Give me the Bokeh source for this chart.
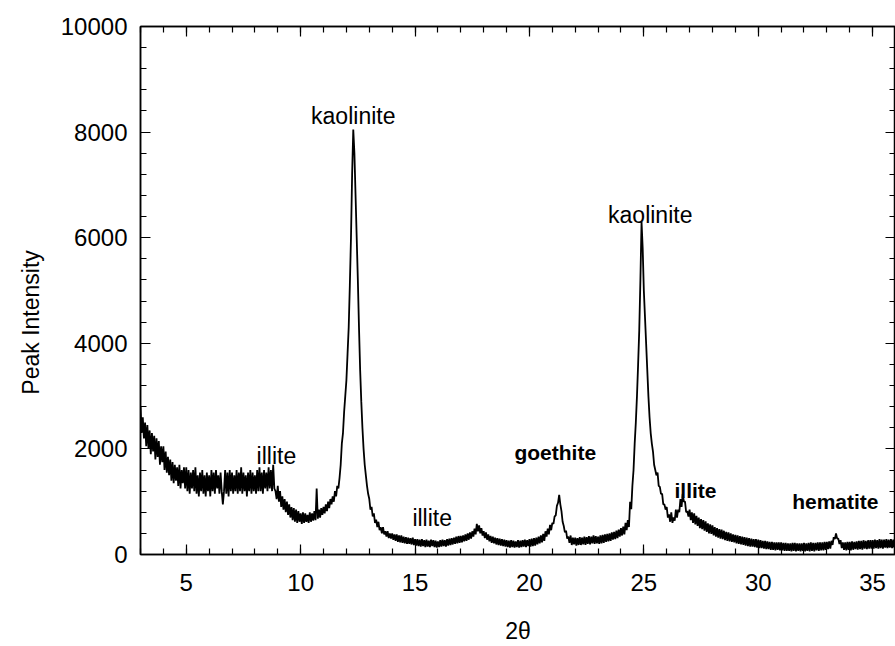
from bokeh.plotting import figure
from bokeh.models import Range1d, LinearAxis, SingleIntervalTicker, Label, CustomJSTickFormatter
from bokeh.embed import file_html
from bokeh.resources import INLINE

# Scan grid (2-theta, degrees)
two_theta_start = 3.0
two_theta_step = 0.05

# Peak intensity, 20 values per degree from 3.0 to 36.0
intensity = [
    2800, 2300, 2600, 2200, 2500, 2050, 2450, 2000, 2350, 1900, 2300, 1950, 2250, 1800, 2200, 1850, 2150, 1700, 2050, 1750,  # 3
    2050, 1600, 1950, 1550, 1850, 1500, 1800, 1400, 1750, 1350, 1700, 1400, 1650, 1300, 1700, 1250, 1600, 1350, 1650, 1250,  # 4
    1650, 1200, 1600, 1150, 1550, 1250, 1600, 1200, 1650, 1150, 1500, 1100, 1550, 1200, 1600, 1150, 1500, 1100, 1550, 1200,  # 5
    1500, 1100, 1600, 1200, 1550, 1150, 1600, 1250, 1500, 1150, 1550, 1200, 950, 1200, 1600, 1150, 1550, 1100, 1600, 1200,   # 6
    1550, 1150, 1500, 1200, 1600, 1150, 1550, 1200, 1650, 1150, 1550, 1200, 1500, 1100, 1550, 1200, 1600, 1150, 1550, 1200,  # 7
    1500, 1150, 1600, 1200, 1650, 1200, 1550, 1150, 1600, 1250, 1550, 1200, 1650, 1250, 1600, 1200, 1700, 1250, 1200, 1050,  # 8
    1300, 1000, 1200, 900, 1100, 850, 1050, 800, 1000, 750, 950, 700, 900, 650, 880, 620, 850, 600, 820, 620,                # 9
    780, 580, 800, 600, 780, 620, 750, 600, 800, 620, 780, 640, 820, 650, 1250, 680, 850, 700, 880, 750,                     # 10
    900, 780, 950, 820, 1000, 880, 1050, 950, 1100, 1000, 1200, 1100, 1300, 1250, 1450, 1700, 2100, 2300, 2700, 3000,        # 11
    3300, 3800, 4300, 5100, 6000, 7200, 8050, 7600, 6800, 6000, 5200, 4300, 3500, 2900, 2400, 2000, 1700, 1500, 1300, 1150,  # 12
    1050, 850, 900, 720, 780, 600, 660, 520, 620, 460, 520, 400, 520, 380, 440, 340, 440, 310, 400, 300,                     # 13
    400, 280, 380, 260, 380, 240, 360, 230, 360, 220, 340, 210, 330, 200, 320, 200, 310, 190, 320, 180,                      # 14
    290, 170, 290, 160, 280, 150, 290, 160, 270, 140, 280, 150, 260, 140, 280, 160, 270, 140, 260, 130,                      # 15
    250, 140, 270, 150, 280, 160, 270, 150, 290, 170, 300, 180, 310, 190, 320, 200, 340, 210, 350, 220,                      # 16
    350, 230, 360, 250, 380, 260, 400, 280, 420, 300, 440, 340, 490, 380, 580, 440, 550, 400, 500, 360,                      # 17
    440, 310, 420, 280, 380, 250, 350, 220, 340, 210, 320, 190, 310, 180, 300, 170, 290, 160, 280, 150,                      # 18
    270, 140, 260, 130, 270, 140, 260, 130, 250, 140, 270, 130, 260, 140, 270, 150, 280, 140, 270, 160,                      # 19
    290, 150, 300, 160, 310, 170, 320, 190, 340, 210, 360, 230, 390, 260, 440, 340, 490, 380, 560, 460,                      # 20
    600, 580, 720, 740, 920, 980, 1130, 950, 820, 620, 540, 420, 450, 300, 340, 220, 360, 180, 320, 190,                     # 21
    320, 170, 310, 180, 330, 180, 320, 190, 340, 180, 330, 200, 350, 190, 340, 210, 360, 200, 350, 210,                      # 22
    340, 200, 360, 210, 370, 220, 380, 240, 390, 250, 400, 260, 420, 280, 430, 290, 450, 310, 470, 340,                      # 23
    500, 360, 530, 380, 600, 460, 650, 520, 1000, 860, 1300, 1600, 2100, 2500, 3000, 3600, 4250, 5200, 6300, 5800,           # 24
    5000, 4500, 4000, 3500, 3000, 2600, 2300, 2100, 1950, 1700, 1600, 1500, 1550, 1300, 1280, 1150, 1150, 950, 950, 850,     # 25
    900, 700, 760, 620, 800, 600, 700, 640, 850, 700, 850, 800, 1050, 900, 1150, 1000, 1000, 800, 820, 720,                  # 26
    850, 650, 800, 600, 780, 570, 730, 540, 700, 500, 670, 480, 650, 450, 630, 430, 590, 400, 570, 390,                      # 27
    550, 360, 520, 340, 500, 320, 480, 300, 470, 290, 450, 270, 430, 260, 420, 250, 400, 240, 380, 230,                      # 28
    370, 210, 360, 200, 350, 190, 340, 180, 330, 170, 320, 160, 310, 150, 300, 150, 290, 140, 290, 130,                      # 29
    280, 120, 270, 120, 260, 110, 260, 100, 250, 100, 240, 90, 240, 90, 230, 80, 230, 90, 230, 80,                           # 30
    230, 80, 220, 70, 220, 70, 210, 70, 210, 60, 220, 70, 220, 60, 210, 70, 210, 60, 210, 70,                                # 31
    220, 60, 210, 70, 220, 60, 230, 70, 220, 60, 220, 80, 230, 70, 230, 80, 230, 80, 240, 90,                                # 32
    240, 100, 250, 110, 260, 180, 330, 290, 400, 300, 300, 200, 270, 120, 230, 90, 230, 80, 240, 90,                         # 33
    240, 80, 250, 90, 240, 100, 250, 90, 260, 100, 260, 90, 270, 110, 260, 100, 270, 110, 270, 110,                          # 34
    270, 110, 280, 120, 270, 110, 290, 120, 280, 110, 280, 130, 290, 120, 280, 130, 290, 120, 280, 130,                      # 35
    240,                                                                                                                     # 36
]
assert len(intensity) == 661, len(intensity)
two_theta = [round(two_theta_start + two_theta_step * i, 3) for i in range(len(intensity))]

# Peak annotations
ann_text = ["kaolinite", "kaolinite", "illite", "illite", "goethite", "illite", "hematite"]
ann_x = [12.30, 25.28, 8.94, 15.75, 21.13, 27.26, 33.37]
ann_y = [8300, 6430, 1860, 700, 1930, 1210, 1010]
ann_bold = [False, False, False, False, True, True, True]

x_label = "2θ"
y_label = "Peak Intensity"

FONT = "Liberation Sans"

p = figure(width=895, height=646, output_backend="svg", toolbar_location=None,
           x_range=Range1d(3, 36), y_range=Range1d(0, 10000),
           min_border_left=140, min_border_right=0, min_border_top=26, min_border_bottom=91,
           background_fill_color="white", border_fill_color="white")
p.grid.visible = False
p.outline_line_color = "black"
p.outline_line_width = 1.5

p.line(two_theta, intensity, line_color="black", line_width=1.8)

blank = CustomJSTickFormatter(code="return ''")

def style(ax, labels=True):
    ax.axis_line_color = "black"
    ax.axis_line_width = 1.5
    ax.major_tick_in = 10
    ax.major_tick_out = 0
    ax.minor_tick_in = 6
    ax.minor_tick_out = 0
    ax.major_tick_line_color = "black"
    ax.minor_tick_line_color = "black"
    ax.major_tick_line_width = 1.2
    ax.minor_tick_line_width = 1.2
    if labels:
        ax.major_label_text_font = FONT
        ax.major_label_text_font_size = "24px"
        ax.major_label_text_color = "black"
        ax.axis_label_text_font = FONT
        ax.axis_label_text_font_size = "23px"
        ax.axis_label_text_font_style = "normal"
        ax.axis_label_text_color = "black"
    else:
        ax.formatter = blank
        ax.major_label_standoff = 0

p.xaxis.ticker = SingleIntervalTicker(interval=5, num_minor_ticks=5)
p.yaxis.ticker = SingleIntervalTicker(interval=2000, num_minor_ticks=5)
style(p.xaxis[0])
style(p.yaxis[0])
p.xaxis.major_label_standoff = 19
p.yaxis.major_label_standoff = 13
p.xaxis.axis_label = x_label
p.xaxis.axis_label_standoff = 24
p.yaxis.axis_label = y_label + "\u00a0" * 10
p.yaxis.axis_label_standoff = 14

top = LinearAxis(ticker=SingleIntervalTicker(interval=5, num_minor_ticks=5))
style(top, labels=False)
p.add_layout(top, "above")
right = LinearAxis(ticker=SingleIntervalTicker(interval=2000, num_minor_ticks=5))
style(right, labels=False)
p.add_layout(right, "right")

for t, x, y, b in zip(ann_text, ann_x, ann_y, ann_bold):
    p.add_layout(Label(x=x, y=y, text=t, text_align="center", text_baseline="alphabetic",
                       text_font=FONT, text_font_size="21px" if b else "23px",
                       text_font_style="bold" if b else "normal", text_color="black"))

open("out.html", "w").write(file_html(p, INLINE))
